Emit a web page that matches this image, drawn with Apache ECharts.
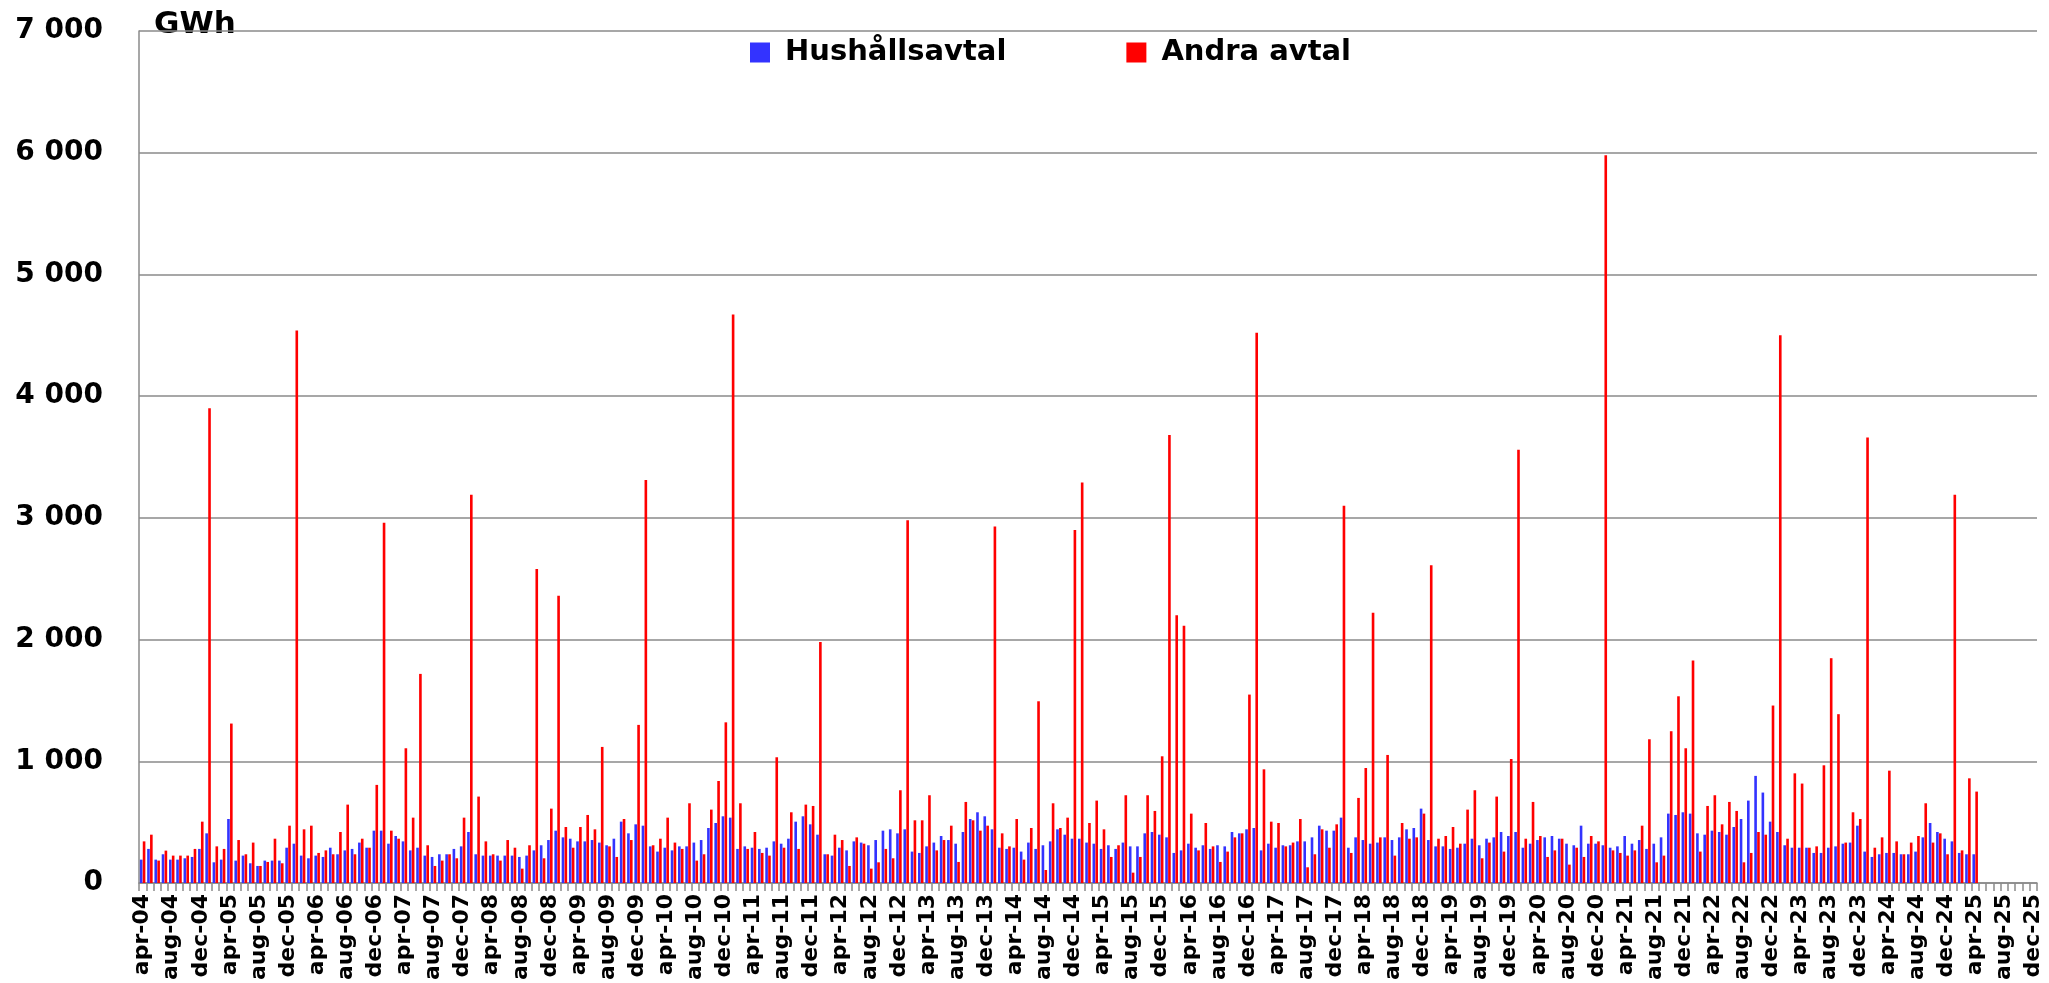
<!DOCTYPE html>
<html>
<head>
<meta charset="utf-8">
<script src="https://cdn.jsdelivr.net/npm/echarts@6/dist/echarts.min.js"></script>
<style>
  html, body { margin: 0; padding: 0; background: #ffffff; }
  #chart { width: 2049px; height: 983px; }
</style>
</head>
<body>
<div id="chart"></div>
<script>
  // månader apr-04 .. dec-25
  const monthNames = ['jan', 'feb', 'mar', 'apr', 'maj', 'jun', 'jul', 'aug', 'sep', 'okt', 'nov', 'dec']
  const categories = []
  for (let y = 2004; y <= 2025; y++) {
    for (let m = 0; m < 12; m++) {
      if (y === 2004 && m < 3) continue
      categories.push(monthNames[m] + '-' + String(y).slice(2))
    }
  }

  // Hushållsavtal, GWh per månad (apr-04 .. apr-25)
  const hushall = [
    192, 280, 192, 236, 192, 192, 203, 214, 280, 408,
    170, 192, 526, 184, 225, 162, 140, 184, 184, 184,
    290, 323, 225, 203, 225, 214, 290, 236, 268, 280,
    332, 290, 430, 430, 323, 386, 342, 268, 290, 225,
    214, 236, 236, 280, 301, 419, 236, 225, 225, 225,
    225, 225, 214, 225, 268, 310, 353, 430, 375, 364,
    342, 342, 353, 332, 310, 364, 504, 408, 482, 471,
    301, 258, 290, 268, 301, 301, 332, 353, 452, 493,
    548, 537, 280, 301, 290, 280, 290, 342, 323, 364,
    504, 548, 482, 397, 236, 225, 290, 268, 342, 332,
    310, 353, 430, 441, 408, 441, 258, 247, 301, 332,
    386, 353, 323, 419, 526, 581, 548, 441, 290, 280,
    290, 258, 332, 280, 310, 342, 441, 397, 364, 364,
    332, 323, 280, 310, 280, 332, 301, 301, 408, 419,
    397, 375, 247, 268, 323, 290, 310, 280, 310, 301,
    419, 408, 441, 452, 268, 323, 290, 310, 310, 342,
    342, 375, 471, 430, 430, 537, 290, 375, 353, 323,
    332, 375, 353, 375, 441, 452, 611, 353, 301, 301,
    280, 290, 323, 364, 310, 364, 375, 419, 386, 419,
    290, 323, 353, 375, 386, 364, 323, 310, 471, 323,
    323, 310, 290, 301, 386, 323, 353, 280, 323, 375,
    570, 559, 581, 570, 408, 397, 430, 419, 397, 460,
    526, 677, 880, 743, 504, 419, 310, 290, 290, 290,
    247, 247, 290, 301, 323, 332, 471, 258, 214, 236,
    247, 247, 236, 236, 258, 375, 493, 419, 364, 342,
    247, 236, 236
  ]

  // Andra avtal, GWh per månad (apr-04 .. apr-25)
  const andra = [
    342, 397, 184, 266, 225, 225, 225, 280, 504, 3900,
    301, 280, 1310, 353, 236, 332, 140, 173, 364, 162,
    471, 4540, 441, 471, 247, 268, 236, 419, 644, 236,
    364, 290, 806, 2960, 430, 364, 1107, 537, 1718, 310,
    140, 184, 236, 203, 537, 3190, 710, 342, 236, 184,
    353, 290, 118, 310, 2580, 203, 611, 2360, 460, 290,
    460, 559, 441, 1118, 301, 214, 526, 353, 1299, 3310,
    310, 364, 537, 332, 280, 655, 184, 236, 603, 838,
    1320, 4670, 655, 280, 419, 247, 225, 1033, 290, 581,
    280, 644, 633, 1980, 236, 397, 353, 140, 375, 323,
    118, 170, 280, 203, 762, 2980, 515, 515, 721, 268,
    353, 471, 173, 666, 515, 430, 471, 2930, 408, 301,
    526, 192, 452, 1493, 107, 655, 452, 537, 2900, 3290,
    493, 677, 441, 214, 310, 721, 85, 214, 721, 592,
    1041, 3680, 2200, 2113, 570, 268, 493, 301, 173, 258,
    375, 408, 1548, 4520, 934, 504, 493, 301, 332, 526,
    129, 236, 441, 290, 482, 3100, 247, 699, 945, 2220,
    375, 1052, 225, 493, 364, 375, 570, 2610, 364, 386,
    460, 323, 603, 762, 203, 332, 710, 258, 1019, 3560,
    364, 666, 386, 214, 268, 364, 151, 290, 214, 386,
    342, 5980, 268, 247, 225, 268, 471, 1181, 170, 225,
    1247, 1534, 1107, 1828, 258, 633, 721, 482, 666, 592,
    170, 247, 419, 397, 1458, 4500, 364, 901, 817, 290,
    301, 967, 1847, 1387, 332, 581, 526, 3660, 290, 375,
    923, 342, 236, 332, 386, 655, 332, 408, 236, 3190,
    268, 860, 751
  ]

  const yTicks = [0, 1000, 2000, 3000, 4000, 5000, 6000, 7000]

  const FONT = 'DejaVu Sans'
  const chart = echarts.init(document.getElementById('chart'))
  chart.setOption({
    animation: false,
    backgroundColor: '#ffffff',
    textStyle: { fontFamily: FONT },
    grid: { left: 139, right: 12, top: 31, bottom: 94, containLabel: false },
    legend: {
      left: 745,
      top: 33,
      itemWidth: 20,
      itemHeight: 20,
      itemGap: 120,
      icon: 'rect',
      textStyle: {
        fontFamily: FONT,
        fontWeight: 'bold',
        fontSize: 29,
        color: '#000',
        padding: [0, 0, 0, 10]
      },
      data: ['Hushållsavtal', 'Andra avtal']
    },
    graphic: [
      {
        type: 'text',
        left: 154,
        top: 9,
        style: { text: 'GWh', font: 'bold 31px "DejaVu Sans"', fill: '#000' }
      }
    ],
    xAxis: {
      type: 'category',
      data: categories,
      axisLine: { lineStyle: { color: '#8a8a8a', width: 1.5 } },
      axisTick: { show: true, interval: 0, length: 8, lineStyle: { color: '#8a8a8a', width: 1.5 } },
      axisLabel: {
        interval: 3,
        rotate: 90,
        margin: 11,
        fontFamily: FONT,
        fontWeight: 'bold',
        fontSize: 22,
        color: '#000'
      }
    },
    yAxis: {
      type: 'value',
      min: yTicks[0],
      max: yTicks[yTicks.length - 1],
      interval: 1000,
      axisLine: { show: true, lineStyle: { color: '#8a8a8a', width: 1.5 } },
      axisTick: { show: false },
      splitLine: { lineStyle: { color: '#8a8a8a', width: 1.5 } },
      axisLabel: {
        margin: 36,
        fontFamily: FONT,
        fontWeight: 'bold',
        fontSize: 28,
        color: '#000',
        formatter: function (v) {
          return String(v).replace(/\B(?=(\d{3})+(?!\d))/g, ' ')
        }
      }
    },
    series: [
      {
        name: 'Hushållsavtal',
        type: 'bar',
        data: hushall,
        barWidth: '36%',
        barGap: '10%',
        itemStyle: { color: '#3333ff' }
      },
      {
        name: 'Andra avtal',
        type: 'bar',
        data: andra,
        barWidth: '36%',
        itemStyle: { color: '#ff0000' }
      }
    ]
  })
</script>
</body>
</html>
